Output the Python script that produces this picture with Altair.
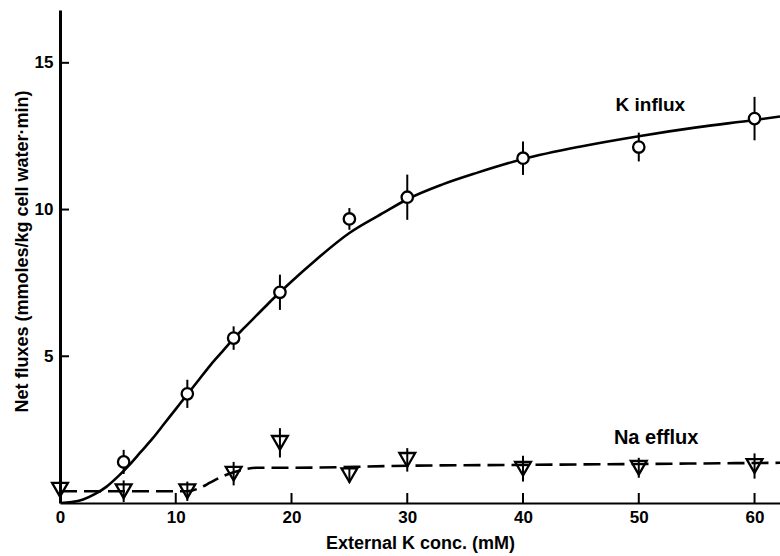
import altair as alt
import pandas as pd

# K influx measurements (mean and half-range of the error bar)
k_conc = [5.5, 11, 15, 19, 25, 30, 40, 50, 60]
k_influx = [1.4, 3.72, 5.62, 7.18, 9.68, 10.42, 11.75, 12.13, 13.1]
k_err = [0.41, 0.48, 0.40, 0.60, 0.37, 0.77, 0.57, 0.49, 0.74]

# Na efflux measurements
na_conc = [0, 5.5, 11, 15, 19, 25, 30, 40, 50, 60]
na_efflux = [0.45, 0.40, 0.40, 1.00, 2.05, 0.95, 1.47, 1.17, 1.20, 1.26]
na_err = [0, 0.37, 0.33, 0.40, 0.50, 0.25, 0.40, 0.44, 0.34, 0.43]

# Hand-drawn fitted curves
k_fit_x = [0, 1, 2, 3, 4, 5, 6, 7, 8, 9, 10, 11, 12, 13, 14, 15, 16, 17, 18, 19,
           20, 22, 25, 28, 30, 33, 36, 40, 45, 50, 55, 60, 62.2]
k_fit_y = [0, 0.03, 0.12, 0.3, 0.55, 0.9, 1.3, 1.75, 2.2, 2.7, 3.2, 3.7, 4.2, 4.7,
           5.15, 5.6, 6.0, 6.4, 6.8, 7.18, 7.55, 8.25, 9.2, 9.9, 10.35, 10.85,
           11.25, 11.72, 12.15, 12.5, 12.8, 13.05, 13.17]
na_fit_x = [0, 11, 12, 13, 14, 15, 16, 17, 20, 30, 40, 50, 62.2]
na_fit_y = [0.4, 0.4, 0.5, 0.7, 0.9, 1.05, 1.15, 1.2, 1.2, 1.27, 1.3, 1.33, 1.37]

x_ticks = [10, 20, 30, 40, 50, 60]
y_ticks = [5, 10, 15]

FONT = "Liberation Sans"

k_df = pd.DataFrame({"x": k_conc, "y": k_influx,
                     "lo": [v - e for v, e in zip(k_influx, k_err)],
                     "hi": [v + e for v, e in zip(k_influx, k_err)]})
na_df = pd.DataFrame({"x": na_conc, "y": na_efflux,
                      "lo": [v - e for v, e in zip(na_efflux, na_err)],
                      "hi": [v + e for v, e in zip(na_efflux, na_err)]})
k_fit = pd.DataFrame({"x": k_fit_x, "y": k_fit_y})
na_fit = pd.DataFrame({"x": na_fit_x, "y": na_fit_y})

xscale = alt.Scale(domain=[0, 62.2], nice=False, zero=False)
yscale = alt.Scale(domain=[0, 16.8], nice=False, zero=False)

xaxis = alt.Axis(values=[0, 10, 20, 30, 40, 50, 60], ticks=False, grid=False,
                 labelFlush=False, domainColor="black", domainWidth=2,
                 labelFont=FONT, labelFontSize=17, labelFontWeight="bold",
                 labelColor="black", labelPadding=6,
                 title="External K conc. (mM)", titleFont=FONT,
                 titleFontSize=18, titleFontWeight="bold", titleColor="black",
                 titlePadding=9)
yaxis = alt.Axis(values=[5, 10, 15], ticks=False, grid=False, labelFlush=False,
                 domainColor="black", domainWidth=3, labelFont=FONT,
                 labelFontSize=17, labelFontWeight="bold", labelColor="black",
                 labelPadding=7, title="Net fluxes (mmoles/kg cell water·min)",
                 titleFont=FONT, titleFontSize=18, titleFontWeight="bold",
                 titleColor="black", titleAngle=270, titleX=-38, titleY=241,
                 titleAlign="center", titleBaseline="middle")


def X(field="x"):
    return alt.X(f"{field}:Q", scale=xscale, axis=xaxis)


def Y(field="y"):
    return alt.Y(f"{field}:Q", scale=yscale, axis=yaxis)


k_line = alt.Chart(k_fit).mark_line(color="black", strokeWidth=2.6,
                                    interpolate="monotone", clip=True).encode(x=X(), y=Y())
na_line = alt.Chart(na_fit).mark_line(color="black", strokeWidth=2.6,
                                      strokeDash=[17, 7], interpolate="monotone",
                                      clip=True).encode(x=X(), y=Y())

k_bars = alt.Chart(k_df).mark_rule(color="black", strokeWidth=2).encode(
    x=X(), y=Y("lo"), y2="hi")
na_bars = alt.Chart(na_df).mark_rule(color="black", strokeWidth=2).encode(
    x=X(), y=Y("lo"), y2="hi")

k_pts = alt.Chart(k_df).mark_point(shape="circle", filled=True, fill="white",
                                   stroke="black", strokeWidth=2.3, size=130,
                                   opacity=1).encode(x=X(), y=Y())
na_pts = alt.Chart(na_df).mark_point(shape="triangle-down", filled=False,
                                     stroke="black", strokeWidth=2.3, size=250,
                                     opacity=1).encode(x=X(), y=Y())

# Inward-pointing axis ticks
xt = alt.Chart(pd.DataFrame({"x": x_ticks})).mark_rule(
    color="black", strokeWidth=2).encode(x=X(), y=alt.value(483), y2=alt.value(493))
yt = alt.Chart(pd.DataFrame({"y": y_ticks})).mark_rule(
    color="black", strokeWidth=2).encode(y=Y(), x=alt.value(0), x2=alt.value(9))

k_label = alt.Chart(pd.DataFrame({"t": ["K influx"]})).mark_text(
    font=FONT, fontSize=19, fontWeight="bold", color="black").encode(
    x=alt.datum(51.0), y=alt.datum(13.57), text="t:N")
na_label = alt.Chart(pd.DataFrame({"t": ["Na efflux"]})).mark_text(
    font=FONT, fontSize=20, fontWeight="bold", color="black").encode(
    x=alt.datum(51.5), y=alt.datum(2.23), text="t:N")

chart = alt.layer(
    k_line, na_line, k_bars, na_bars, k_pts, na_pts, xt, yt, k_label, na_label
).properties(
    width=720, height=493,
    padding={"left": 60, "top": 10, "right": 0, "bottom": 53},
    autosize=alt.AutoSizeParams(type="none"),
    background="white",
).configure_view(stroke=None)

chart.save("out.html", embed_options={"renderer": "svg", "actions": False})
